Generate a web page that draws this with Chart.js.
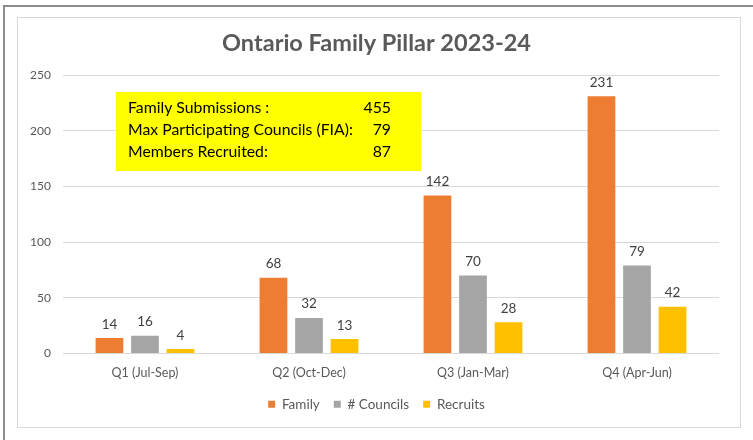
<!DOCTYPE html>
<html>
<head>
<meta charset="utf-8">
<script src="https://cdn.jsdelivr.net/npm/chart.js@4"></script>
<style>
  html,body{margin:0;padding:0;background:#fff;}
  #wrap{position:relative;width:753px;height:440px;overflow:hidden;}
  #outer{position:absolute;left:3px;top:5px;width:760px;height:460px;border:2px solid #8c8c8c;box-sizing:border-box;}
  #inner{position:absolute;left:17px;top:17px;width:724px;height:411px;border:1px solid #d9d9d9;box-sizing:border-box;}
  canvas{position:absolute;left:0;top:0;}
</style>
</head>
<body>
<div id="wrap">
  <div id="outer"></div>
  <div id="inner"></div>
  <canvas id="chart" width="753" height="440"></canvas>
</div>
<script>
const quarters=['Q1 (Jul-Sep)','Q2 (Oct-Dec)','Q3 (Jan-Mar)','Q4 (Apr-Jun)'];
const family=[14,68,142,231];
const councils=[16,32,70,79];
const recruits=[4,13,28,42];
const summaryLabels=['Family Submissions :','Max Participating Councils (FIA):','Members Recruited:'];
const summaryValues=['455','79','87'];

const FONT='Lato, "Open Sans", sans-serif';

// value labels above each bar
const barLabels={
  id:'barLabels',
  afterDatasetsDraw(chart){
    const ctx=chart.ctx;
    ctx.save();
    ctx.font='13.5px '+FONT;
    ctx.fillStyle='#404040';
    ctx.textAlign='center';
    ctx.textBaseline='bottom';
    chart.data.datasets.forEach((ds,i)=>{
      chart.getDatasetMeta(i).data.forEach((bar,j)=>{
        ctx.fillText(ds.data[j],bar.x,bar.y-7);
      });
    });
    ctx.restore();
  }
};

// yellow summary box
const summaryBox={
  id:'summaryBox',
  afterDatasetsDraw(chart){
    const ctx=chart.ctx;
    ctx.save();
    ctx.fillStyle='#ffff00';
    ctx.fillRect(116,92,305,79);
    ctx.font='15.8px '+FONT;
    ctx.fillStyle='#000';
    ctx.textBaseline='middle';
    summaryLabels.forEach((t,i)=>{
      const y=108+i*22;
      ctx.textAlign='left';
      ctx.fillText(t,128,y);
      ctx.textAlign='right';
      ctx.fillText(summaryValues[i],391,y);
    });
    ctx.restore();
  }
};

new Chart(document.getElementById('chart'),{
  type:'bar',
  data:{
    labels:quarters,
    datasets:[
      {label:'Family',data:family,backgroundColor:'#ed7d31'},
      {label:'# Councils',data:councils,backgroundColor:'#a5a5a5'},
      {label:'Recruits',data:recruits,backgroundColor:'#ffc000'}
    ]
  },
  options:{
    responsive:false,
    animation:false,
    categoryPercentage:0.65,
    barPercentage:0.78,
    layout:{padding:{left:0,right:0,top:0,bottom:19}},
    plugins:{
      title:{
        display:true,
        text:'Ontario Family Pillar 2023-24',
        color:'#595959',
        font:{family:FONT,size:23.5,weight:'bold'},
        padding:{top:29,bottom:18}
      },
      legend:{
        position:'bottom',
        labels:{
          boxWidth:7,boxHeight:7,
          color:'#595959',
          font:{family:FONT,size:13.5},
          padding:14
        }
      },
      tooltip:{enabled:false}
    },
    scales:{
      x:{
        grid:{display:false,drawTicks:false},
        border:{display:false},
        ticks:{color:'#595959',font:{family:FONT,size:12.5},padding:12},
        afterFit(scale){scale.height=30;}
      },
      y:{
        min:0,max:250,
        ticks:{stepSize:50,color:'#595959',font:{family:FONT,size:12},padding:12},
        grid:{color:'#d9d9d9',drawTicks:false},
        border:{display:false},
        afterFit(scale){scale.width=63;}
      },
      // empty right axis: keeps the plot's right margin so title and legend stay centred on the page
      yRight:{
        display:true,
        position:'right',
        min:0,max:250,
        ticks:{display:false},
        grid:{display:false,drawTicks:false},
        border:{display:false},
        afterFit(scale){scale.width=34;}
      }
    }
  },
  plugins:[barLabels,summaryBox]
});
</script>
</body>
</html>
